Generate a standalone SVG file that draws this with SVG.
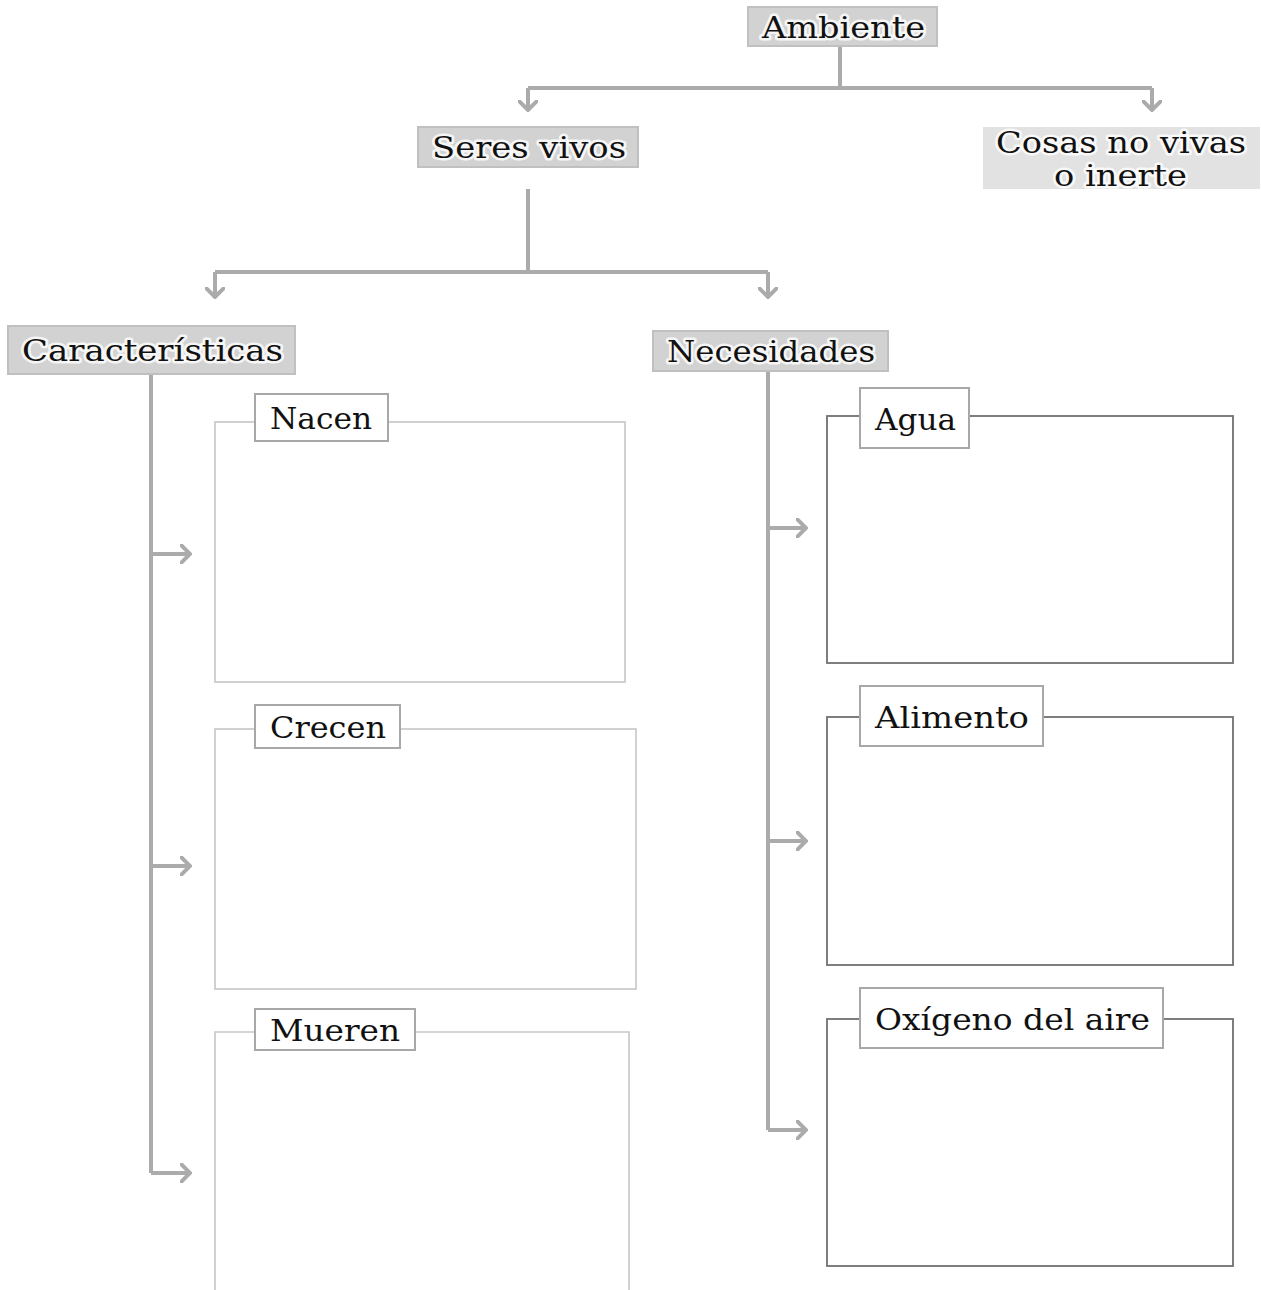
<svg xmlns="http://www.w3.org/2000/svg" width="1261" height="1290" viewBox="0 0 1261 1290">
<style>
.bg{fill:#ffffff}
.hdr{fill:#d2d2d2;stroke:#c0c0c0;stroke-width:2}
.hdr2{fill:#e2e2e2;stroke:none}
.lbl{fill:#ffffff;stroke:#a8a8a8;stroke-width:2}
.outL{fill:none;stroke:#c6c6c6;stroke-width:1.6}
.outR{fill:none;stroke:#707070;stroke-width:1.8}
.conn{fill:none;stroke:#ababab;stroke-width:4}
.txt{font-family:"DejaVu Serif","Liberation Serif",serif;font-size:30px;fill:#111111}
.glow{stroke:#ffffff;stroke-width:5;stroke-linejoin:round;paint-order:stroke fill;stroke-opacity:0.8}
</style>
<defs>
<marker id="ah" viewBox="0 0 12 20" refX="10" refY="10" markerWidth="12" markerHeight="20" markerUnits="userSpaceOnUse" orient="auto">
<path d="M1,1 L10,10 L1,19" fill="none" stroke="#ababab" stroke-width="4" stroke-linecap="round" stroke-linejoin="miter"/>
</marker>
</defs>
<rect class="bg" x="0" y="0" width="1261" height="1290"/>

<g id="connectors">
<path class="conn" d="M840,46 V88"/>
<path class="conn" d="M528,88 H1152"/>
<path class="conn" d="M528,88 V110" marker-end="url(#ah)"/>
<path class="conn" d="M1152,88 V110" marker-end="url(#ah)"/>
<path class="conn" d="M528,189 V271"/>
<path class="conn" d="M215,272 H768"/>
<path class="conn" d="M215,272 V297" marker-end="url(#ah)"/>
<path class="conn" d="M768,272 V297" marker-end="url(#ah)"/>
<path class="conn" d="M151,374 V1173"/>
<path class="conn" d="M151,554 H190" marker-end="url(#ah)"/>
<path class="conn" d="M151,866 H190" marker-end="url(#ah)"/>
<path class="conn" d="M151,1173 H190" marker-end="url(#ah)"/>
<path class="conn" d="M768,371 V1130"/>
<path class="conn" d="M768,528 H806" marker-end="url(#ah)"/>
<path class="conn" d="M768,841 H806" marker-end="url(#ah)"/>
<path class="conn" d="M768,1130 H806" marker-end="url(#ah)"/>
</g>

<g id="ambiente">
<rect class="hdr" x="748" y="7" width="189" height="39"/>
<text class="txt glow" x="762" y="38" textLength="163" lengthAdjust="spacingAndGlyphs">Ambiente</text>
</g>
<g id="seres-vivos">
<rect class="hdr" x="418" y="127" width="220" height="40"/>
<text class="txt glow" x="432" y="158" textLength="194" lengthAdjust="spacingAndGlyphs">Seres vivos</text>
</g>
<g id="cosas-no-vivas">
<rect class="hdr2" x="983" y="127" width="277" height="62"/>
<text class="txt glow" x="996" y="153" textLength="250" lengthAdjust="spacingAndGlyphs">Cosas no vivas</text>
<text class="txt glow" x="1054" y="186" textLength="133" lengthAdjust="spacingAndGlyphs">o inerte</text>
</g>
<g id="caracteristicas">
<rect class="hdr" x="8" y="326" width="287" height="48"/>
<text class="txt glow" x="22" y="361" textLength="261" lengthAdjust="spacingAndGlyphs">Características</text>
</g>
<g id="necesidades">
<rect class="hdr" x="653" y="331" width="235" height="40"/>
<text class="txt glow" x="667" y="362" textLength="208" lengthAdjust="spacingAndGlyphs">Necesidades</text>
</g>

<g id="nacen">
<rect class="outL" x="215" y="422" width="410" height="260"/>
<rect class="lbl" x="255" y="394" width="133" height="47"/>
<text class="txt" x="270" y="429" textLength="102" lengthAdjust="spacingAndGlyphs">Nacen</text>
</g>
<g id="crecen">
<rect class="outL" x="215" y="729" width="421" height="260"/>
<rect class="lbl" x="255" y="705" width="145" height="43"/>
<text class="txt" x="270" y="738" textLength="116" lengthAdjust="spacingAndGlyphs">Crecen</text>
</g>
<g id="mueren">
<path class="outL" d="M215,1291 V1032 H629 V1291"/>
<rect class="lbl" x="255" y="1009" width="160" height="41"/>
<text class="txt" x="270" y="1041" textLength="130" lengthAdjust="spacingAndGlyphs">Mueren</text>
</g>

<g id="agua">
<rect class="outR" x="827" y="416" width="406" height="247"/>
<rect class="lbl" x="860" y="388" width="109" height="60"/>
<text class="txt" x="875" y="430" textLength="81" lengthAdjust="spacingAndGlyphs">Agua</text>
</g>
<g id="alimento">
<rect class="outR" x="827" y="717" width="406" height="248"/>
<rect class="lbl" x="860" y="686" width="183" height="60"/>
<text class="txt" x="875" y="728" textLength="154" lengthAdjust="spacingAndGlyphs">Alimento</text>
</g>
<g id="oxigeno">
<rect class="outR" x="827" y="1019" width="406" height="247"/>
<rect class="lbl" x="860" y="988" width="303" height="60"/>
<text class="txt" x="875" y="1030" textLength="275" lengthAdjust="spacingAndGlyphs">Oxígeno del aire</text>
</g>
</svg>
